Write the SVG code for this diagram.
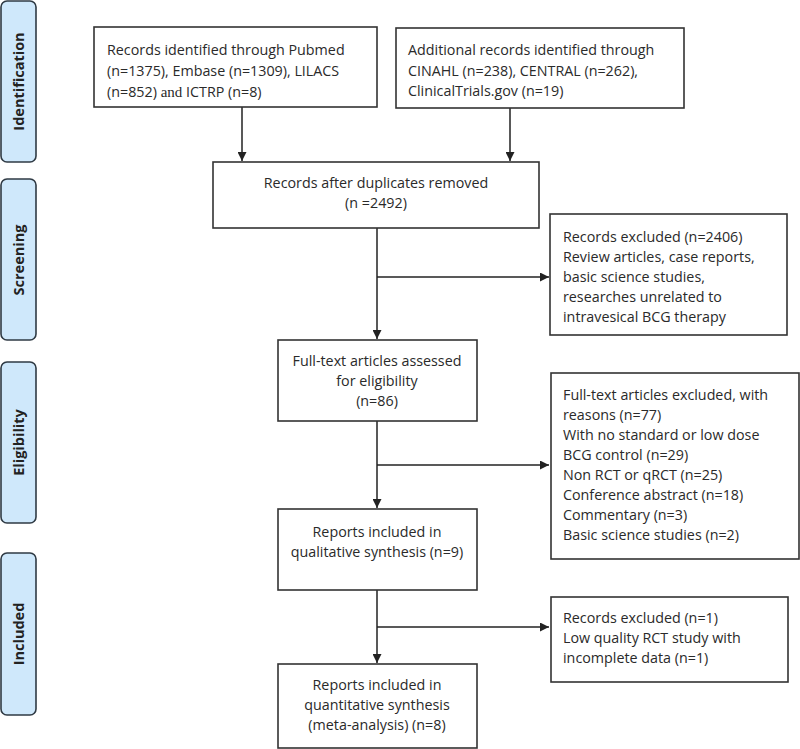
<svg xmlns="http://www.w3.org/2000/svg" width="800" height="749" viewBox="0 0 800 749">
<defs>
<marker id="ah" viewBox="0 0 10 10" refX="10" refY="5" markerWidth="9" markerHeight="9" markerUnits="userSpaceOnUse" orient="auto">
<path d="M0,0 L10,5 L0,10 z" fill="#222"/>
</marker>
<style>
.stage rect{fill:#cfe8fb;stroke:#2f3a44;stroke-width:1.6}
.stage text{font-family:"Open Sans","Liberation Sans",sans-serif;font-weight:bold;font-size:14.5px;fill:#222;text-anchor:middle}
.box rect{fill:#fff;stroke:#333;stroke-width:1.6}
.box text{font-family:"Open Sans","Liberation Sans",sans-serif;font-size:14.3px;fill:#2a2a2a}
.c text{text-anchor:middle}
.serif{font-family:"Liberation Serif",serif;font-size:15px}
#connectors path{fill:none;stroke:#222;stroke-width:1.5}
</style>
</defs>
<rect width="800" height="749" fill="#fff"/>

<g id="stage-identification" class="stage">
<rect x="1" y="1" width="35" height="161" rx="6"/>
<text transform="translate(23.5,81.5) rotate(-90)">Identification</text>
</g>
<g id="stage-screening" class="stage">
<rect x="1" y="179" width="35" height="161" rx="6"/>
<text transform="translate(23.5,260) rotate(-90)">Screening</text>
</g>
<g id="stage-eligibility" class="stage">
<rect x="1" y="362" width="35" height="161" rx="6"/>
<text transform="translate(23.5,442.5) rotate(-90)">Eligibility</text>
</g>
<g id="stage-included" class="stage">
<rect x="1" y="553" width="35" height="162" rx="6"/>
<text transform="translate(23.5,634) rotate(-90)">Included</text>
</g>

<g id="connectors">
<path d="M242,107 V161" marker-end="url(#ah)"/>
<path d="M510,108 V161" marker-end="url(#ah)"/>
<path d="M377,228 V339" marker-end="url(#ah)"/>
<path d="M377,277 H549" marker-end="url(#ah)"/>
<path d="M377,421 V508" marker-end="url(#ah)"/>
<path d="M377,465 H549" marker-end="url(#ah)"/>
<path d="M377,590 V663" marker-end="url(#ah)"/>
<path d="M377,627 H549" marker-end="url(#ah)"/>
</g>

<g id="n-pubmed" class="box">
<rect x="94" y="27" width="283" height="80"/>
<text x="107" y="55">Records identified through Pubmed</text>
<text x="107" y="76">(n=1375), Embase (n=1309), LILACS</text>
<text x="107" y="97">(n=852) <tspan class="serif">and</tspan> ICTRP (n=8)</text>
</g>

<g id="n-additional" class="box">
<rect x="396" y="28" width="288" height="80"/>
<text x="408" y="55">Additional records identified through</text>
<text x="408" y="76">CINAHL (n=238), CENTRAL (n=262),</text>
<text x="408" y="96">ClinicalTrials.gov (n=19)</text>
</g>

<g id="n-duplicates" class="box c">
<rect x="213" y="162" width="326" height="66"/>
<text x="376" y="188">Records after duplicates removed</text>
<text x="376" y="208">(n =2492)</text>
</g>

<g id="n-excluded1" class="box">
<rect x="550" y="214" width="237" height="121"/>
<text x="563" y="242">Records excluded (n=2406)</text>
<text x="563" y="262">Review articles, case reports,</text>
<text x="563" y="282">basic science studies,</text>
<text x="563" y="302">researches unrelated to</text>
<text x="563" y="322">intravesical BCG therapy</text>
</g>

<g id="n-fulltext" class="box c">
<rect x="278" y="340" width="199" height="81"/>
<text x="377" y="366">Full-text articles assessed</text>
<text x="377" y="386">for eligibility</text>
<text x="377" y="406">(n=86)</text>
</g>

<g id="n-excluded2" class="box">
<rect x="551" y="373" width="248" height="186"/>
<text x="563" y="400">Full-text articles excluded, with</text>
<text x="563" y="420">reasons (n=77)</text>
<text x="563" y="440">With no standard or low dose</text>
<text x="563" y="460">BCG control (n=29)</text>
<text x="563" y="480">Non RCT or qRCT (n=25)</text>
<text x="563" y="500">Conference abstract (n=18)</text>
<text x="563" y="520">Commentary (n=3)</text>
<text x="563" y="540">Basic science studies (n=2)</text>
</g>

<g id="n-qualitative" class="box c">
<rect x="278" y="509" width="199" height="81"/>
<text x="377" y="537">Reports included in</text>
<text x="377" y="557">qualitative synthesis (n=9)</text>
</g>

<g id="n-excluded3" class="box">
<rect x="551" y="597" width="237" height="85"/>
<text x="563" y="623">Records excluded (n=1)</text>
<text x="563" y="643">Low quality RCT study with</text>
<text x="563" y="663">incomplete data (n=1)</text>
</g>

<g id="n-quantitative" class="box c">
<rect x="278" y="664" width="199" height="84"/>
<text x="377" y="690">Reports included in</text>
<text x="377" y="710">quantitative synthesis</text>
<text x="377" y="730">(meta-analysis) (n=8)</text>
</g>
</svg>
